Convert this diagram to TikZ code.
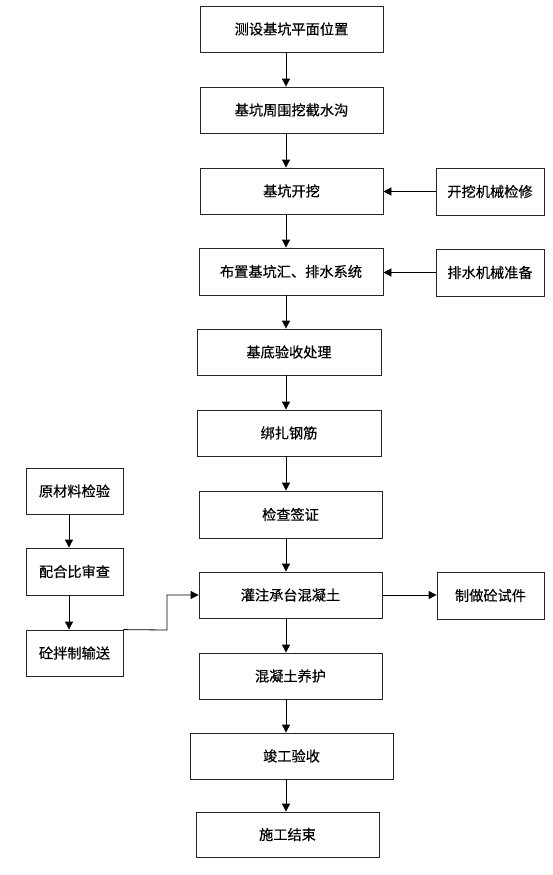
\documentclass[tikz,border=0pt]{standalone}
\usepackage{fontspec}
\setmainfont{Noto Sans CJK SC}[FakeBold=0.4]
\usetikzlibrary{arrows.meta}
\begin{document}
\begin{tikzpicture}[x=1pt,y=-1pt,
  box/.style={draw=black!85, line width=0.8pt, rectangle, inner sep=0pt, font=\fontsize{14.2}{16}\selectfont},
  mainbox/.style={box, minimum width=183pt, minimum height=46pt},
  sidebox/.style={box, minimum width=108pt, minimum height=47pt},
  leftbox/.style={box, minimum width=97pt, minimum height=46pt},
  arr/.style={draw=black, line width=0.8pt, -{Triangle[length=8pt,width=8pt]}}
]
\useasboundingbox (0,0) rectangle (553,875);
% main column
\node[mainbox] (b1) at (291.5,29) {测设基坑平面位置};
\node[mainbox] (b2) at (291.5,110) {基坑周围挖截水沟};
\node[mainbox] (b3) at (291.5,191) {基坑开挖};
\node[mainbox, minimum width=184pt, minimum height=47pt] (b4) at (291,271.5) {布置基坑汇、排水系统};
\node[mainbox, minimum width=184pt] (b5) at (289,352) {基底验收处理};
\node[mainbox, minimum width=184pt] (b6) at (289,433) {绑扎钢筋};
\node[mainbox, minimum height=47pt] (b7) at (290.5,514.5) {检查签证};
\node[mainbox] (b8) at (290.5,595) {灌注承台混凝土};
\node[mainbox] (b9) at (290.5,676) {混凝土养护};
\node[mainbox, minimum width=203pt] (b10) at (291.5,756) {竣工验收};
\node[mainbox, minimum height=45pt] (b11) at (287.5,834.5) {施工结束};
% right column
\node[sidebox] (r1) at (490,191.5) {开挖机械检修};
\node[sidebox] (r2) at (490,272.5) {排水机械准备};
\node[sidebox, minimum width=107pt] (r3) at (490.5,595.5) {制做砼试件};
% left column
\node[leftbox] (l1) at (74.5,491) {原材料检验};
\node[leftbox, minimum height=47pt] (l2) at (74.5,571.5) {配合比审查};
\node[leftbox] (l3) at (74.5,653) {砼拌制输送};
% axis coordinates
\coordinate (ax) at (286,0);
\coordinate (lx) at (69,0);
\coordinate (k) at (167,630);
% main arrows
\draw[arr] (b1.south -| ax) -- (b2.north -| ax);
\draw[arr] (b2.south -| ax) -- (b3.north -| ax);
\draw[arr] (b3.south -| ax) -- (b4.north -| ax);
\draw[arr] (b4.south -| ax) -- (b5.north -| ax);
\draw[arr] (b5.south -| ax) -- (b6.north -| ax);
\draw[arr] (b6.south -| ax) -- (b7.north -| ax);
\draw[arr] (b7.south -| ax) -- (b8.north -| ax);
\draw[arr] (b8.south -| ax) -- (b9.north -| ax);
\draw[arr] (b9.south -| ax) -- (b10.north -| ax);
\draw[arr] (b10.south -| ax) -- (b11.north -| ax);
% side arrows
\draw[arr] (r1.west) -- (r1.west -| b3.east);
\draw[arr] (r2.west) -- (r2.west -| b4.east);
\draw[arr] (b8.east) -- (b8.east -| r3.west);
% left arrows
\draw[arr] (l1.south -| lx) -- (l2.north -| lx);
\draw[arr] (l2.south -| lx) -- (l3.north -| lx);
\draw[arr] (l3.north east) -- (k) |- (b8.west);
\end{tikzpicture}
\end{document}
